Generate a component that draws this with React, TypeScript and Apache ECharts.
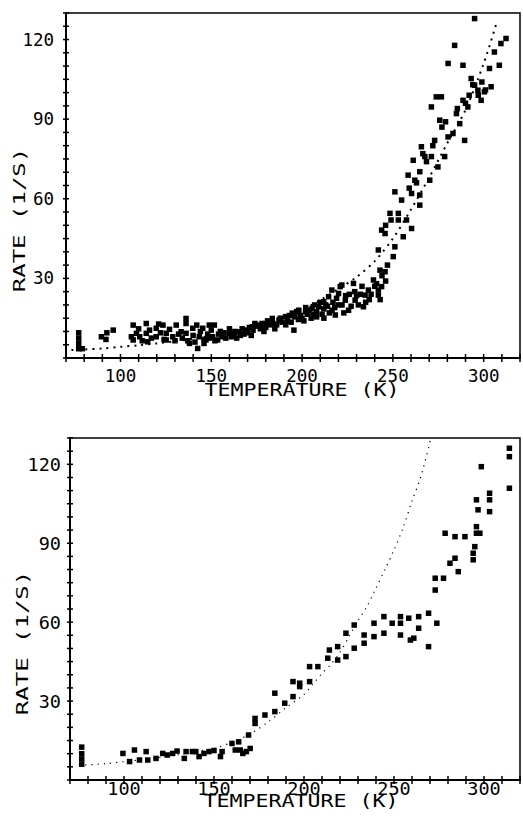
import React, { useEffect, useRef } from "react";
import * as echarts from "echarts";

// ---------- DATA ----------
const xTitle = "TEMPERATURE (K)";
const yTitle = "RATE (1/S)";
const xLabelValues = [100, 150, 200, 250, 300];
const yLabelValues = [30, 60, 90, 120];
const xTickValues = [70, 80, 90, 100, 110, 120, 130, 140, 150, 160, 170, 180, 190, 200, 210, 220, 230, 240, 250, 260, 270, 280, 290, 300, 310, 320];
const yTickValues = [0, 5, 10, 15, 20, 25, 30, 35, 40, 45, 50, 55, 60, 65, 70, 75, 80, 85, 90, 95, 100, 105, 110, 115, 120, 125, 130];

const topPoints: [number, number][] = [
  [77, 3.5], [77, 5.5], [77, 7.5], [77, 9.5], [79, 3.5],
  [89.5, 8], [92, 7], [92.5, 9.5], [96, 10.5],
  [106, 8], [107, 12.4], [107, 6.8], [108.8, 9.3], [110.6, 8], [110, 11], [112, 6.5], [114.2, 13], [114.2, 9.3],
  [115, 6.1], [116, 10.5], [117, 7.5], [119.7, 11.2], [119.7, 8], [121, 12.8], [122, 9.5], [123.4, 12.4], [124, 7],
  [125.2, 9.3], [125.2, 6.8], [127, 10.8], [128.8, 8], [130, 6.5], [130.7, 12.4], [132, 9], [133.4, 9.9], [134, 7.5],
  [136.1, 14.9], [136.1, 13], [136.1, 9.3], [137, 6.5], [138, 5.5], [139.8, 11.2], [140, 8.5], [141, 6], [142.5, 3.6],
  [142, 12.4], [143.4, 8], [144, 10], [145.3, 11.2], [146, 7], [147.1, 6.8], [148, 9], [148.9, 12.4], [150, 10.5],
  [150.7, 8], [151.7, 12.4], [152, 6.5], [153.5, 6.8], [154, 9], [156.2, 8], [157, 9.5], [158, 7.5], [159.9, 9.3],
  [161, 8], [162.6, 8.7], [163, 10], [165.4, 9.9], [166, 8.5], [167, 11], [169, 10.5], [170, 9.5], [171, 11.5],
  [172.7, 11.8], [173, 10.5], [175, 12], [176.3, 12.4], [177, 11], [178, 13], [180, 13], [180, 11.5], [182, 12.5],
  [183.6, 14.9], [184, 13], [186, 12.5], [187.3, 14.3], [188, 15], [189, 13.5], [190.9, 15.6], [192, 14], [193, 16],
  [194.6, 16.9], [195.5, 10.5], [196, 15.5], [197, 17.5], [198.2, 18], [199, 16], [200, 15], [201.9, 17.4], [202, 19],
  [203, 16.5], [204, 18], [205.5, 18.7], [206, 16.5], [207, 20], [208, 17.5], [209.2, 19.3], [210, 21], [211, 16.5],
  [211.9, 21.2], [212, 18.5], [213, 20], [214.6, 23.1], [215, 17], [216.5, 18], [216.4, 25.6], [217, 21], [218.3, 16.2],
  [219, 22.5], [220.1, 24.3], [221, 26.9], [221.9, 27.5], [222, 20], [223.8, 21.8], [224, 23.5], [225.6, 18], [226, 24],
  [228.3, 28.1], [229.2, 21.8], [230, 23.5], [231, 20], [232, 24], [233.8, 19.3], [234.7, 23.7], [236.5, 25.6], [237, 22],
  [239.3, 29.4], [240, 27], [242, 25.6], [242, 23.7], [242.9, 33.1], [243.8, 26.9], [245.7, 32.5], [244, 31],
  [146, 5.5], [149, 7.5], [155, 10], [160, 11], [164, 7.5], [168, 9], [172, 8.5], [174, 13], [179, 10], [181, 14],
  [185, 11], [191, 12.5], [194, 13.5], [198, 14.5], [201, 14], [205, 15], [208, 15.5], [212, 15], [214, 19.5],
  [218, 19], [220, 20], [223, 17], [227, 19.5], [229, 25], [233, 27], [235, 21], [238, 24], [241, 28], [243, 22],
  [246, 29], [247, 35],
  [242, 40.7], [243.8, 48.2], [245.7, 46.9], [246, 50], [248.4, 54.5], [249, 52], [250.2, 38.2], [251.1, 41.9],
  [251.1, 62.6], [253, 54.5], [253, 52], [254.8, 59.5], [255.7, 45.7], [257.5, 52], [258.4, 68.9], [259, 64],
  [260.3, 62], [260.3, 48.8], [262.1, 67], [261.2, 74.5], [263, 66], [264.8, 57.6], [264.8, 61.4], [264.8, 70.2],
  [265.7, 79.6], [266.5, 77], [267.6, 75.9], [268.5, 74], [270.3, 67], [271.2, 75.9], [271.2, 94.6], [272, 80],
  [273, 82], [274.8, 72], [273.9, 98.4], [276.7, 98.4], [275.8, 89.6], [277, 87], [278.5, 75.9], [279, 89],
  [280.4, 83.3], [280.4, 111], [283.1, 84.6], [284, 117.8], [285, 92.1], [285.5, 94], [286.8, 88.3], [288.6, 110.3],
  [288.6, 97.1], [289.5, 82], [290, 96], [291.3, 94.6], [292, 99], [293.1, 105.3], [294, 103], [295, 127.9],
  [295, 102.8], [296.8, 100.9], [297, 99], [298.6, 97.1], [299, 104], [300.4, 100.3], [301, 101], [303.2, 109.1],
  [304.1, 102.2], [305.9, 115.3], [308.6, 110.3], [309.5, 118.5], [312.3, 120.4],
];

const topFit: [number, number][] = [
  [73, 3], [80, 3.2], [90, 3.6], [100, 4.2], [110, 4.8], [120, 5.5], [130, 6.3], [140, 7.2], [150, 8.3],
  [160, 9.6], [170, 11.2], [180, 13], [190, 15.3], [200, 18.2], [210, 21.8], [220, 26], [230, 30.5],
  [240, 36.5], [250, 45], [260, 56], [270, 68], [280, 81], [290, 93.5], [300, 111], [307, 126],
];

const bottomPoints: [number, number][] = [
  [76.5, 6], [76.5, 8], [76.5, 10], [76.5, 12.5],
  [99.4, 10.1], [103.1, 7], [105.8, 11.4], [108.6, 7.6], [112.3, 10.8], [113.2, 7.6], [117.8, 8.2], [121.5, 10.1],
  [124, 9.5], [127, 10.1], [129.5, 11], [133.5, 8.2], [134.5, 10.8], [138, 10.8], [139.9, 10.8], [141.7, 8.9],
  [144.4, 10.1], [147.2, 10.8], [150, 11.2], [153.6, 8.9], [154.5, 10.8], [160, 13.9], [161.8, 11.4], [163.7, 14.5],
  [164.6, 11.4], [166, 10.1], [168, 10.8], [170.1, 12], [169.2, 17.1],
  [172.8, 21.5], [172.8, 23.4], [178.3, 24.7], [183.8, 33], [183.8, 26], [189.3, 29.2], [193.9, 31.7], [193.9, 37.4],
  [197.6, 36.8], [197.6, 35.5], [203.1, 37.4], [203.1, 43.1], [207.7, 43.1], [213.2, 46.3], [214.1, 49.4],
  [218.7, 50.7], [218.7, 45.6], [223.3, 46.9], [223.3, 55.8], [227.9, 58.9], [227.9, 50.1], [233.4, 55.1], [233.4, 52],
  [238.9, 59.6], [238.9, 54.5], [244.4, 62.1], [244.4, 55.8], [249, 59.6], [253.6, 62.1], [253.6, 59.6], [253.6, 55.1],
  [258.2, 61.5], [259.1, 53.2], [261, 53.9], [263.7, 62.1], [263.7, 57.7], [269.2, 63.4], [269.2, 50.7], [273.8, 59.6],
  [272.9, 76.7], [272.9, 72.2], [277.5, 76.7], [278.4, 93.8], [281.1, 82.4], [283.9, 92.5], [283.9, 84.3], [285.7, 79.2],
  [289.4, 92.5], [294, 83.7], [294, 86.2], [294.9, 88.7], [295.8, 93.8], [295.8, 96.3], [297.7, 93.8], [295.8, 106.5],
  [296.7, 102.7], [298.5, 119.1], [303.1, 109], [303.1, 106.5], [303.1, 102], [314.1, 126.1], [314.1, 122.9], [314.1, 110.9],
];

const bottomFit: [number, number][] = [
  [75, 5.6], [90, 6.2], [100, 7], [110, 7.7], [120, 8.6], [130, 9.6], [140, 10.7], [150, 12], [160, 14.3],
  [170, 17.5], [180, 22], [190, 27.5], [200, 32.5], [205, 36.5], [210, 40.5], [215, 44], [220, 48.5], [225, 54.5],
  [230, 60.5], [235, 66], [240, 73], [245, 80], [250, 87.5], [255, 95.8], [260, 106], [265, 115.5], [270.5, 130],
];

const X_MIN = 70, X_MAX = 320, X_STEP = 10;
const Y_MIN = 0, Y_MAX = 130, Y_STEP = 5;

// ---------- CHART ----------
const FONT = "DejaVu Sans Mono";

function axesForGrid(gridIndex: number, labelSize: number, xMargin: number, yMargin: number) {
  const xFmt = (v: number) => (xLabelValues.includes(Math.round(v)) ? String(Math.round(v)) : "");
  const yFmt = (v: number) => (yLabelValues.includes(Math.round(v)) ? String(Math.round(v)) : "");
  const base = { type: "value", gridIndex, splitLine: { show: false } };
  const xs = [
    {
      ...base, position: "bottom", min: X_MIN, max: X_MAX, interval: X_STEP,
      axisLine: { show: true, onZero: false, lineStyle: { color: "#000", width: 2 } },
      axisTick: { show: false },
      axisLabel: { formatter: xFmt, color: "#000", fontFamily: FONT, fontSize: labelSize, margin: xMargin },
    },
  ];
  const ys = [
    {
      ...base, position: "left", min: Y_MIN, max: Y_MAX, interval: Y_STEP,
      axisLine: { show: true, onZero: false, lineStyle: { color: "#000", width: 2 } },
      axisTick: { show: false },
      axisLabel: { formatter: yFmt, color: "#000", fontFamily: FONT, fontSize: labelSize, margin: yMargin },
    },
  ];
  return { xs, ys };
}

function tickSeries(axisIndex: number) {
  const style = { color: "#000", opacity: 1 };
  return [
    {
      type: "scatter", xAxisIndex: axisIndex, yAxisIndex: axisIndex, clip: false, silent: true, z: 5,
      data: xTickValues.map((v) => [v, Y_MIN]),
      symbol: "rect", symbolSize: [1.5, 8], itemStyle: style,
    },
    {
      type: "scatter", xAxisIndex: axisIndex, yAxisIndex: axisIndex, clip: false, silent: true, z: 5,
      data: yTickValues.map((v) => [X_MIN, v]),
      symbol: "rect", symbolSize: [6, 1.5], itemStyle: style,
    },
  ];
}

export default function App() {
  const ref = useRef<HTMLDivElement>(null);
  useEffect(() => {
    if (!ref.current) return;
    const chart = echarts.init(ref.current, undefined, { renderer: "svg" });
    const a0 = axesForGrid(0, 17.5, 9, 12);
    const a1 = axesForGrid(1, 18.5, -1, 9);
    const titleText = (x: number, y: number, text: string, size: number, scale: number, vertical: boolean) => ({
      type: "text",
      x, y,
      rotation: vertical ? Math.PI / 2 : 0,
      scaleX: scale,
      style: { text, fill: "#000", fontFamily: FONT, fontSize: size, align: "center", verticalAlign: "middle" },
    });
    const scatterStyle = { color: "#000", opacity: 1 };
    const gridBase = { show: true, borderColor: "#000", borderWidth: 1.5, backgroundColor: "transparent" };
    chart.setOption({
      animation: false,
      backgroundColor: "#fff",
      grid: [
        { ...gridBase, left: 66, top: 13, width: 456, height: 345 },
        { ...gridBase, left: 70, top: 438, width: 454, height: 342 },
      ],
      xAxis: [...a0.xs, ...a1.xs],
      yAxis: [...a0.ys, ...a1.ys],
      graphic: [
        titleText(302, 390, xTitle, 18, 1.2, false),
        titleText(20, 220, yTitle, 15, 1.6, true),
        titleText(301, 801, xTitle, 18, 1.2, false),
        titleText(23, 643, yTitle, 16, 1.5, true),
      ],
      series: [
        {
          type: "scatter", xAxisIndex: 0, yAxisIndex: 0, data: topPoints,
          symbol: "rect", symbolSize: 5.5, itemStyle: scatterStyle, silent: true,
        },
        {
          type: "line", xAxisIndex: 0, yAxisIndex: 0, data: topFit, showSymbol: false, smooth: 0.3,
          lineStyle: { color: "#000", width: 2, type: [2, 5] }, silent: true,
        },
        {
          type: "scatter", xAxisIndex: 1, yAxisIndex: 1, data: bottomPoints,
          symbol: "rect", symbolSize: 5.5, itemStyle: scatterStyle, silent: true,
        },
        {
          type: "line", xAxisIndex: 1, yAxisIndex: 1, data: bottomFit, showSymbol: false, smooth: 0.3,
          lineStyle: { color: "#000", width: 1.2, type: [1.2, 5] }, silent: true,
        },
        ...tickSeries(0),
        ...tickSeries(1),
      ],
    });
    return () => chart.dispose();
  }, []);
  return (
    <div
      ref={ref}
      style={{ position: "absolute", left: 0, top: 0, width: 523, height: 820, background: "#fff" }}
    />
  );
}
